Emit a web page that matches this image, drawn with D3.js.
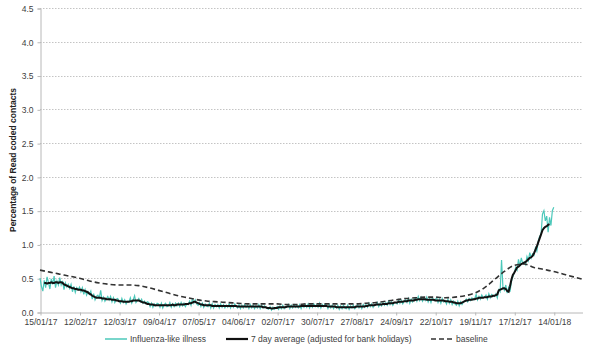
<!DOCTYPE html>
<html>
<head>
<meta charset="utf-8">
<script src="https://cdn.jsdelivr.net/npm/d3@7"></script>
<style>
  body { margin: 0; background: #fff; }
  svg { display: block; font-family: "Liberation Sans", Arial, sans-serif; }
</style>
</head>
<body>
<svg width="590" height="351"></svg>
<script>
// daily ILI rate, one row per week, from 15/01/17
const iliStart = "15/01/17";
const ili = [
  0.50,0.38,0.31,0.47,0.36,0.52,0.44,
  0.34,0.49,0.41,0.53,0.36,0.46,0.40,
  0.51,0.40,0.46,0.33,0.43,0.37,0.41,
  0.35,0.41,0.30,0.38,0.29,0.36,0.33,
  0.37,0.30,0.36,0.26,0.33,0.25,0.30,
  0.26,0.31,0.19,0.27,0.18,0.23,0.25,
  0.21,0.32,0.17,0.22,0.16,0.20,0.23,
  0.18,0.23,0.15,0.21,0.14,0.19,0.20,
  0.17,0.13,0.20,0.14,0.18,0.12,0.16,
  0.15,0.21,0.13,0.18,0.24,0.14,0.17,
  0.20,0.15,0.19,0.13,0.16,0.12,0.15,
  0.14,0.08,0.13,0.07,0.12,0.09,0.13,
  0.12,0.07,0.13,0.06,0.11,0.13,0.08,
  0.09,0.14,0.07,0.12,0.08,0.13,0.09,
  0.13,0.08,0.14,0.09,0.13,0.08,0.12,
  0.11,0.16,0.10,0.20,0.13,0.18,0.12,
  0.10,0.14,0.08,0.13,0.07,0.12,0.09,
  0.08,0.13,0.06,0.12,0.06,0.11,0.08,
  0.11,0.06,0.12,0.07,0.11,0.06,0.10,
  0.07,0.12,0.06,0.11,0.07,0.12,0.08,
  0.06,0.11,0.05,0.10,0.06,0.11,0.07,
  0.10,0.05,0.11,0.06,0.10,0.05,0.09,
  0.06,0.11,0.05,0.10,0.06,0.09,0.07,
  0.05,0.04,0.08,0.03,0.07,0.04,0.06,
  0.08,0.04,0.09,0.05,0.10,0.05,0.08,
  0.07,0.11,0.05,0.10,0.06,0.11,0.07,
  0.10,0.06,0.11,0.05,0.10,0.07,0.11,
  0.07,0.12,0.06,0.11,0.07,0.12,0.08,
  0.11,0.07,0.13,0.06,0.11,0.08,0.12,
  0.10,0.05,0.11,0.06,0.10,0.05,0.09,
  0.06,0.10,0.04,0.09,0.05,0.10,0.06,
  0.05,0.10,0.04,0.09,0.06,0.10,0.05,
  0.07,0.11,0.06,0.10,0.05,0.11,0.07,
  0.11,0.07,0.13,0.08,0.12,0.07,0.11,
  0.10,0.14,0.08,0.13,0.09,0.14,0.10,
  0.14,0.10,0.16,0.11,0.15,0.10,0.14,
  0.14,0.12,0.18,0.13,0.17,0.12,0.16,
  0.18,0.14,0.20,0.13,0.19,0.15,0.19,
  0.21,0.16,0.23,0.17,0.22,0.16,0.20,
  0.17,0.22,0.15,0.20,0.14,0.21,0.17,
  0.18,0.21,0.14,0.19,0.13,0.20,0.15,
  0.17,0.12,0.19,0.13,0.18,0.11,0.16,
  0.12,0.10,0.16,0.09,0.15,0.11,0.15,
  0.16,0.19,0.15,0.20,0.17,0.21,0.18,
  0.20,0.26,0.18,0.23,0.19,0.25,0.21,
  0.22,0.25,0.19,0.27,0.21,0.26,0.24,
  0.23,0.27,0.21,0.33,0.30,0.77,0.36,
  0.32,0.40,0.28,0.36,0.30,0.45,0.52,
  0.58,0.66,0.62,0.78,0.68,0.80,0.72,
  0.74,0.70,0.82,0.76,0.88,0.80,0.86,
  0.84,0.95,0.90,1.05,1.12,1.15,1.45,
  1.50,1.35,1.42,1.18,1.40,1.28,1.50,
  1.55
];

// 7 day average, daily from 18/01/17
const avgStart = "18/01/17";
const avg7 = [
  0.43,0.43,0.42,0.43,
  0.43,0.44,0.43,0.43,0.44,0.44,0.43,
  0.44,0.44,0.43,0.41,0.40,0.39,0.38,
  0.37,0.36,0.35,0.35,0.34,0.34,0.33,
  0.33,0.33,0.32,0.32,0.31,0.30,0.29,
  0.27,0.26,0.24,0.23,0.22,0.21,0.21,
  0.21,0.21,0.20,0.20,0.20,0.19,0.19,
  0.19,0.19,0.18,0.18,0.18,0.17,0.17,
  0.16,0.16,0.16,0.15,0.15,0.15,0.15,
  0.15,0.16,0.16,0.17,0.17,0.17,0.17,
  0.17,0.16,0.15,0.14,0.14,0.13,0.12,
  0.12,0.11,0.11,0.11,0.10,0.10,0.10,
  0.10,0.10,0.10,0.10,0.10,0.10,0.10,
  0.10,0.10,0.10,0.11,0.10,0.10,0.11,
  0.11,0.11,0.11,0.11,0.11,0.12,0.12,
  0.12,0.13,0.13,0.14,0.15,0.15,0.14,
  0.13,0.12,0.11,0.11,0.10,0.10,0.10,
  0.10,0.10,0.10,0.09,0.09,0.09,0.09,
  0.09,0.09,0.09,0.09,0.09,0.09,0.09,
  0.09,0.09,0.09,0.09,0.09,0.09,0.09,
  0.08,0.08,0.08,0.08,0.08,0.08,0.08,
  0.08,0.08,0.08,0.08,0.08,0.08,0.08,
  0.08,0.08,0.08,0.08,0.07,0.07,0.07,
  0.06,0.06,0.06,0.05,0.05,0.06,0.06,
  0.06,0.07,0.07,0.07,0.07,0.07,0.07,
  0.08,0.08,0.08,0.08,0.08,0.08,0.08,
  0.08,0.08,0.08,0.09,0.09,0.09,0.09,
  0.09,0.09,0.09,0.09,0.09,0.09,0.09,
  0.09,0.09,0.09,0.09,0.09,0.09,0.09,
  0.09,0.08,0.08,0.08,0.08,0.08,0.08,
  0.07,0.07,0.07,0.07,0.07,0.07,0.07,
  0.07,0.07,0.07,0.07,0.07,0.07,0.07,
  0.08,0.08,0.08,0.08,0.08,0.08,0.08,
  0.09,0.09,0.10,0.10,0.10,0.10,0.10,
  0.11,0.11,0.11,0.11,0.11,0.12,0.12,
  0.12,0.12,0.13,0.13,0.13,0.13,0.14,
  0.14,0.14,0.15,0.15,0.15,0.15,0.16,
  0.16,0.16,0.17,0.17,0.17,0.17,0.17,
  0.18,0.18,0.19,0.19,0.19,0.19,0.19,
  0.19,0.18,0.18,0.18,0.18,0.18,0.18,
  0.17,0.17,0.17,0.17,0.17,0.17,0.17,
  0.16,0.16,0.16,0.15,0.15,0.15,0.14,
  0.14,0.13,0.13,0.13,0.13,0.14,0.15,
  0.16,0.17,0.17,0.18,0.18,0.18,0.19,
  0.19,0.20,0.20,0.21,0.21,0.21,0.21,
  0.22,0.22,0.22,0.23,0.23,0.23,0.24,
  0.24,0.25,0.26,0.32,0.33,0.34,0.35,
  0.35,0.34,0.31,0.30,0.38,0.48,0.55,
  0.58,0.62,0.66,0.67,0.69,0.71,0.72,
  0.73,0.74,0.76,0.78,0.80,0.81,0.83,
  0.87,0.92,0.97,1.03,1.09,1.15,1.21,
  1.24,1.26,1.27,1.29,1.30
];

// baseline, weekly from 15/01/17
const baseStart = "15/01/17";
const baseline = [
  0.62,0.59,0.56,0.53,0.50,0.46,0.43,0.41,0.40,0.40,
  0.39,0.36,0.32,0.28,0.24,0.21,0.18,0.16,0.15,0.14,
  0.13,0.12,0.12,0.12,0.12,0.11,0.11,0.12,0.12,0.12,
  0.12,0.12,0.12,0.13,0.14,0.16,0.18,0.20,0.21,0.22,
  0.22,0.21,0.22,0.24,0.28,0.36,0.48,0.60,0.69,0.71,
  0.66,0.63,0.60,0.56,0.52,0.48
];

const xTicks = ["15/01/17","12/02/17","12/03/17","09/04/17","07/05/17","04/06/17","02/07/17",
  "30/07/17","27/08/17","24/09/17","22/10/17","19/11/17","17/12/17","14/01/18"];
const xEnd = "03/02/18";
const yTicks = [0, 0.5, 1.0, 1.5, 2.0, 2.5, 3.0, 3.5, 4.0, 4.5];

const parse = d3.utcParse("%d/%m/%y");
const daily = (start, vals) => vals.map((v, i) => ({ date: d3.utcDay.offset(parse(start), i), v }));
const weekly = (start, vals) => vals.map((v, i) => ({ date: d3.utcWeek.offset(parse(start), i), v }));

const iliData = daily(iliStart, ili);
const avgData = daily(avgStart, avg7);
const baseData = weekly(baseStart, baseline);

const svg = d3.select("svg");
const mLeft = 40, mRight = 582, mTop = 8, mBottom = 312;
const textCol = "#404040";

const x = d3.scaleUtc().domain([parse(xTicks[0]), parse(xEnd)]).range([mLeft, mRight]);
const y = d3.scaleLinear().domain([0, 4.5]).range([mBottom, mTop]);

// gridlines
svg.append("g")
  .selectAll("line")
  .data(yTicks.slice(1))
  .enter()
  .append("line")
  .attr("x1", mLeft).attr("x2", mRight + 1)
  .attr("y1", d => Math.round(y(d)) + 0.5).attr("y2", d => Math.round(y(d)) + 0.5)
  .attr("stroke", "#c4c4c4")
  .attr("stroke-dasharray", "1.5,1.5");

// y axis
const yAxis = svg.append("g")
  .attr("transform", `translate(${mLeft + 0.5},0.5)`)
  .call(d3.axisLeft(y).tickValues(yTicks).tickFormat(d3.format(".1f")).tickSize(3).tickPadding(4));
yAxis.select(".domain").attr("stroke", "#b8b8b8");
yAxis.selectAll(".tick line").attr("stroke", "#b8b8b8");
yAxis.selectAll("text").attr("fill", textCol).style("font-size", "8.5px");

// x axis
const xAxis = svg.append("g")
  .attr("transform", `translate(0.5,${mBottom + 0.5})`)
  .call(d3.axisBottom(x).tickValues(xTicks.map(parse)).tickFormat(d3.utcFormat("%d/%m/%y")).tickSize(3).tickSizeOuter(0).tickPadding(3));
xAxis.select(".domain").attr("stroke", "#b8b8b8");
xAxis.selectAll(".tick line").attr("stroke", "#b8b8b8");
xAxis.selectAll("text").attr("fill", textCol).style("font-size", "8.5px");

// y title
svg.append("text")
  .attr("transform", `translate(16,${(mTop + mBottom) / 2}) rotate(-90)`)
  .attr("text-anchor", "middle")
  .attr("fill", "#222")
  .style("font-size", "8.5px")
  .style("font-weight", "bold")
  .text("Percentage of Read coded contacts");

const line = d3.line().x(d => x(d.date)).y(d => y(d.v));

svg.append("path")
  .datum(iliData)
  .attr("d", line)
  .attr("fill", "none")
  .attr("stroke", "#4cc8ba")
  .attr("stroke-width", 1.2);

svg.append("path")
  .datum(baseData)
  .attr("d", line.curve(d3.curveMonotoneX))
  .attr("fill", "none")
  .attr("stroke", "#333")
  .attr("stroke-width", 1.6)
  .attr("stroke-dasharray", "5,3");

svg.append("path")
  .datum(avgData)
  .attr("d", line.curve(d3.curveLinear))
  .attr("fill", "none")
  .attr("stroke", "#111")
  .attr("stroke-width", 2);

// legend
const legend = [
  { label: "Influenza-like illness", color: "#4cc8ba", width: 1.5, dash: null, x: 105 },
  { label: "7 day average (adjusted for bank holidays)", color: "#111", width: 2.2, dash: null, x: 226 },
  { label: "baseline", color: "#333", width: 1.6, dash: "5,3", x: 431 }
];
const lg = svg.append("g").selectAll("g").data(legend).enter().append("g")
  .attr("transform", d => `translate(${d.x},339)`);
lg.append("line")
  .attr("x1", 0).attr("x2", 22)
  .attr("stroke", d => d.color)
  .attr("stroke-width", d => d.width)
  .attr("stroke-dasharray", d => d.dash);
lg.append("text")
  .attr("x", 25).attr("dy", "0.35em")
  .attr("fill", textCol)
  .style("font-size", "8.5px")
  .text(d => d.label);
</script>
</body>
</html>
